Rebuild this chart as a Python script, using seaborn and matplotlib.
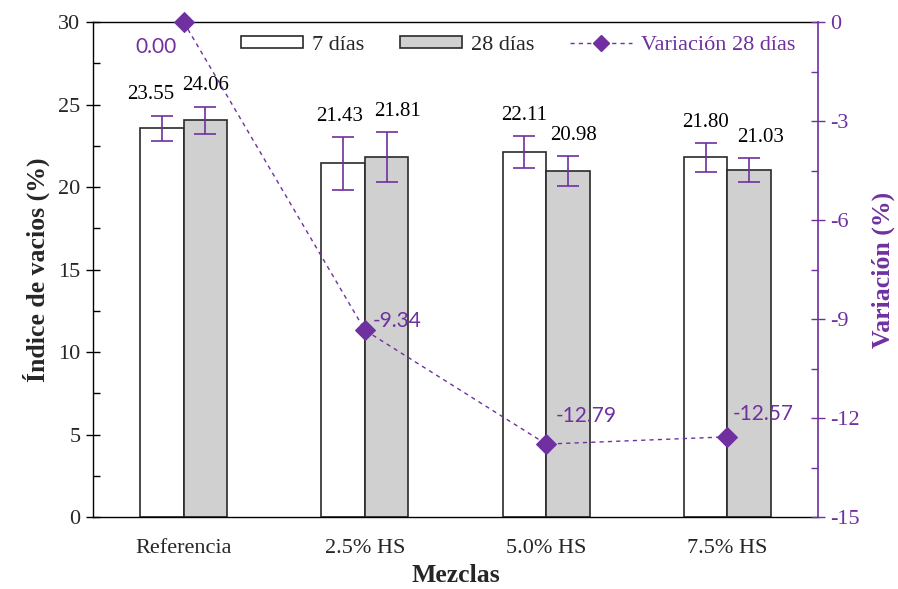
import numpy as np
import pandas as pd
import matplotlib
matplotlib.use("Agg")
import matplotlib.pyplot as plt
import seaborn as sns
from matplotlib.ticker import MultipleLocator
from matplotlib.lines import Line2D
from matplotlib.patches import Patch

categories = ["Referencia", "2.5% HS", "5.0% HS", "7.5% HS"]
vals_7 = [23.55, 21.43, 22.11, 21.80]
vals_28 = [24.06, 21.81, 20.98, 21.03]
err_7 = [0.78, 1.6, 0.97, 0.88]
err_28 = [0.82, 1.5, 0.92, 0.70]
variation = [0.00, -9.34, -12.79, -12.57]
series = ["7 días", "28 días"]

PURPLE = "#7030A0"
sns.set_theme(style="white")
plt.rcParams["font.family"] = ["Liberation Serif", "DejaVu Serif"]
plt.rcParams["axes.unicode_minus"] = False

df = pd.DataFrame({
    "Mezclas": categories * 2,
    "valor": vals_7 + vals_28,
    "serie": [series[0]] * 4 + [series[1]] * 4,
})

fig = plt.figure(figsize=(8.98, 5.89), dpi=100)
ax = fig.add_axes([0.1036, 0.1222, 0.8074, 0.8404])

sns.barplot(data=df, x="Mezclas", y="valor", hue="serie", order=categories,
            hue_order=series, palette=["white", "#D0D0D0"], width=0.48,
            errorbar=None, edgecolor="#2a2a2a", linewidth=1.2, ax=ax,
            legend=False, saturation=1)

errs = err_7 + err_28
vals = vals_7 + vals_28
label_dx = [-0.06, -0.02, 0.0, 0.0, 0.0, 0.06, 0.03, 0.06]
bars = ax.patches[:8]
for i, p in enumerate(bars):
    xc = p.get_x() + p.get_width() / 2
    ax.errorbar(xc, vals[i], yerr=errs[i], color=PURPLE, capsize=8,
                elinewidth=1.2, capthick=1.2, fmt="none", zorder=5)
    ax.text(xc + label_dx[i], vals[i] + errs[i] + 1.25, f"{vals[i]:.2f}", ha="center",
            va="center", fontsize=15, color="black")

ax.set_xlim(-0.5, 3.5)
ax.set_ylim(0, 30)
ax.yaxis.set_major_locator(MultipleLocator(5))
ax.yaxis.set_minor_locator(MultipleLocator(2.5))
ax.set_xticks(np.arange(4))
ax.set_xticklabels(categories)
ax.set_xticks(np.arange(-0.5, 4, 1), minor=True)
ax.tick_params(axis="x", which="major", length=0, labelsize=16, pad=16)
ax.tick_params(axis="x", which="minor", length=6, width=1, direction="out", color="black")
ax.tick_params(axis="y", which="major", length=10, width=1, direction="inout",
               labelsize=16, color="black", left=True, pad=4)
ax.tick_params(axis="y", which="minor", length=5, width=1, direction="in",
               color="black", left=True)
ax.set_xlabel("Mezclas", fontsize=18.5, fontweight="bold", labelpad=4)
ax.set_ylabel("Índice de vacios (%)", fontsize=18.5, fontweight="bold", labelpad=6)
for s in ["left", "bottom", "top"]:
    ax.spines[s].set_color("black")
    ax.spines[s].set_linewidth(1.0)
ax.spines["right"].set_visible(False)

ax2 = ax.twinx()
xs = np.arange(4)
sns.lineplot(x=xs, y=variation, ax=ax2, color=PURPLE, linestyle=(0, (3, 3)),
             linewidth=1.0, marker="D", markersize=10.5, markeredgecolor=PURPLE,
             clip_on=False, zorder=6)
ax2.set_ylim(-15, 0)
ax2.yaxis.set_major_locator(MultipleLocator(3))
ax2.yaxis.set_minor_locator(MultipleLocator(1.5))
ax2.tick_params(axis="y", which="major", length=10, width=1, direction="inout",
                labelsize=16, colors=PURPLE, right=True, pad=4)
ax2.tick_params(axis="y", which="minor", length=5, width=1, direction="in",
                color=PURPLE, right=True)
ax2.set_ylabel("Variación (%)", fontsize=18.5, fontweight="bold", color=PURPLE, labelpad=8)
for s in ["left", "bottom", "top"]:
    ax2.spines[s].set_visible(False)
ax2.spines["right"].set_color(PURPLE)
ax2.spines["right"].set_linewidth(1.2)

offsets = [(-0.155, -0.76), (0.18, 0.27), (0.22, 0.85), (0.2, 0.7)]
for i, v in enumerate(variation):
    dx, dy = offsets[i]
    ax2.text(xs[i] + dx, v + dy, f"{v:.2f}", ha="center", va="center",
             fontsize=15, color=PURPLE, family=["Lato", "DejaVu Sans"])

handles = [Patch(facecolor="white", edgecolor="#2a2a2a", linewidth=1.2),
           Patch(facecolor="#D0D0D0", edgecolor="#2a2a2a", linewidth=1.2),
           Line2D([0], [0], color=PURPLE, linestyle=(0, (3, 3)), linewidth=1.0,
                  marker="D", markersize=8)]
leg = ax.legend(handles, ["7 días", "28 días", "Variación 28 días"], ncol=3,
                loc="center", bbox_to_anchor=(0.586, 0.953), frameon=False,
                fontsize=16, handlelength=2.8, handleheight=0.45, columnspacing=1.6,
                handletextpad=0.4, borderpad=0.1)
leg.get_texts()[2].set_color(PURPLE)
leg.set_zorder(10)

fig.savefig("out.png", dpi=100)
